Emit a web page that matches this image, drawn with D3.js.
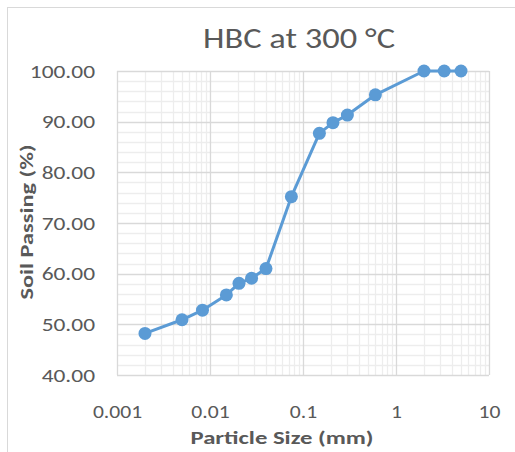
<!DOCTYPE html>
<html>
<head>
<meta charset="utf-8">
<script src="https://cdn.jsdelivr.net/npm/d3@7"></script>
<style>
  html, body { margin: 0; padding: 0; background: #fff; }
  svg { display: block; }
  text { font-family: Carlito, Lato, "Open Sans", sans-serif; }
</style>
</head>
<body>
<svg id="chart" width="515" height="452"></svg>
<script>
// Grain size distribution, HBC at 300 °C
const particleSize = [0.002, 0.005, 0.0083, 0.015, 0.0205, 0.028, 0.04, 0.075, 0.15, 0.21, 0.3, 0.6, 2, 3.3, 5];
const soilPassing  = [48.2, 50.9, 52.8, 55.8, 58.1, 59.1, 61.0, 75.2, 87.7, 89.8, 91.3, 95.3, 100, 100, 100];
const xTickValues  = [0.001, 0.01, 0.1, 1, 10];
const xTickLabels  = ["0.001", "0.01", "0.1", "1", "10"];
const yTickValues  = [40, 50, 60, 70, 80, 90, 100];
const titleText  = "HBC at 300 °C";
const xTitleText = "Particle Size (mm)";
const yTitleText = "Soil Passing (%)";

const svg = d3.select("#chart");
const plot = { left: 117, right: 489, top: 71, bottom: 375 };

const x = d3.scaleLog().domain([0.001, 10]).range([plot.left, plot.right]);
const y = d3.scaleLinear().domain([40, 100]).range([plot.bottom, plot.top]);

// widen glyphs of a text group by a common factor (wide Calibri-like look)
function widen(sel, factor) {
  sel.each(function () {
    const w = this.getComputedTextLength();
    d3.select(this).attr("textLength", w * factor).attr("lengthAdjust", "spacingAndGlyphs");
  });
}
function fitTo(sel, width) {
  sel.attr("textLength", width).attr("lengthAdjust", "spacingAndGlyphs");
}

// outer chart frame
svg.append("rect")
  .attr("x", 7.5).attr("y", 7.5).attr("width", 530).attr("height", 470)
  .attr("fill", "#fff").attr("stroke", "#D9D9D9").attr("stroke-width", 1);

// minor gridlines
const minorX = [];
for (let e = -3; e < 1; e++) for (let k = 2; k <= 9; k++) minorX.push(k * Math.pow(10, e));
const minorY = d3.range(40, 100.1, 2).filter(v => v % 10 !== 0);

const grid = svg.append("g");
grid.selectAll(".mx").data(minorX).join("line")
  .attr("x1", d => Math.round(x(d)) + 0.5).attr("x2", d => Math.round(x(d)) + 0.5)
  .attr("y1", plot.top).attr("y2", plot.bottom)
  .attr("stroke", "#EDEDED").attr("stroke-width", 1.3);
grid.selectAll(".my").data(minorY).join("line")
  .attr("y1", d => Math.round(y(d)) + 0.5).attr("y2", d => Math.round(y(d)) + 0.5)
  .attr("x1", plot.left).attr("x2", plot.right)
  .attr("stroke", "#EDEDED").attr("stroke-width", 1.3);

// major gridlines
grid.selectAll(".Mx").data(xTickValues).join("line")
  .attr("x1", d => Math.round(x(d)) + 0.5).attr("x2", d => Math.round(x(d)) + 0.5)
  .attr("y1", plot.top).attr("y2", plot.bottom)
  .attr("stroke", "#D9D9D9").attr("stroke-width", 1.3);
grid.selectAll(".My").data(yTickValues).join("line")
  .attr("y1", d => Math.round(y(d)) + 0.5).attr("y2", d => Math.round(y(d)) + 0.5)
  .attr("x1", plot.left).attr("x2", plot.right)
  .attr("stroke", "#D9D9D9").attr("stroke-width", 1.3);

// axes (labels only; the grid carries the lines)
const xAxis = d3.axisBottom(x).tickValues(xTickValues)
  .tickFormat((d, i) => xTickLabels[i]).tickSize(0).tickPadding(0);
const gx = svg.append("g").attr("transform", `translate(0,${plot.bottom})`).call(xAxis);
gx.select(".domain").remove();
gx.selectAll("text").attr("y", 43).attr("dy", null)
  .attr("fill", "#595959").style("font-size", "18px");
widen(gx.selectAll("text"), 1.2);

const yAxis = d3.axisLeft(y).tickValues(yTickValues)
  .tickFormat(d3.format(".2f")).tickSize(0).tickPadding(0);
const gy = svg.append("g").attr("transform", `translate(95,0)`).call(yAxis);
gy.select(".domain").remove();
gy.selectAll("text").attr("x", 0).attr("dy", "0.35em")
  .attr("fill", "#595959").style("font-size", "18px");
widen(gy.selectAll("text"), 1.3);

// series
const pts = particleSize.map((d, i) => [d, soilPassing[i]]);
svg.append("path").datum(pts)
  .attr("fill", "none").attr("stroke", "#5B9BD5").attr("stroke-width", 3)
  .attr("stroke-linejoin", "round")
  .attr("d", d3.line().x(d => x(d[0])).y(d => y(d[1])));
svg.append("g").selectAll("circle").data(pts).join("circle")
  .attr("cx", d => x(d[0])).attr("cy", d => y(d[1])).attr("r", 6.5)
  .attr("fill", "#5B9BD5");

// titles
const title = svg.append("text").attr("x", 299).attr("y", 48).attr("text-anchor", "middle")
  .attr("fill", "#595959").style("font-size", "28px").text(titleText);
fitTo(title, 192);
const xTitle = svg.append("text").attr("x", 282).attr("y", 444).attr("text-anchor", "middle")
  .attr("fill", "#595959").style("font-size", "18px").style("font-weight", "bold")
  .text(xTitleText);
fitTo(xTitle, 183);
const yTitle = svg.append("text").attr("transform", "translate(33,222) rotate(-90)")
  .attr("text-anchor", "middle")
  .attr("fill", "#595959").style("font-size", "18px").style("font-weight", "bold")
  .text(yTitleText);
fitTo(yTitle, 155);
</script>
</body>
</html>
